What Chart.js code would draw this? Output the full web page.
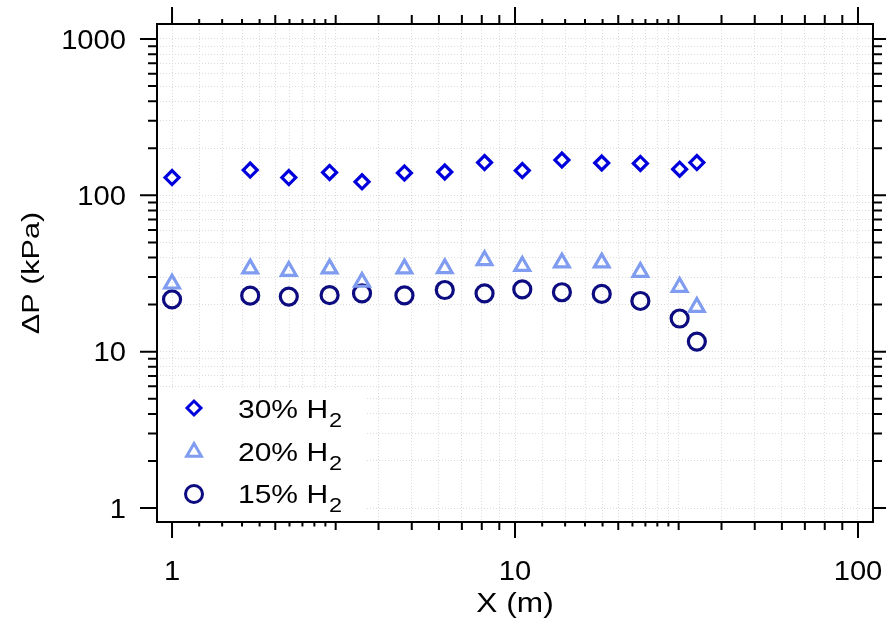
<!DOCTYPE html>
<html>
<head>
<meta charset="utf-8">
<script src="https://cdn.jsdelivr.net/npm/chart.js@4/dist/chart.umd.min.js"></script>
<style>
html,body{margin:0;padding:0;background:#fff;}
#wrap{width:886px;height:621px;}
</style>
</head>
<body>
<div id="wrap"><canvas id="c" width="886" height="621"></canvas></div>
<script>
// ---- data ----
const xPositions = [1.0, 1.69, 2.19, 2.88, 3.58, 4.76, 6.24, 8.15, 10.5, 13.7, 17.9, 23.2, 30.2, 33.9];
const dp30 = [130, 145, 130, 140, 122, 139, 141, 162, 144, 168, 161, 160, 147, 162];
const dp20 = [27.2, 34.0, 32.8, 34.0, 27.9, 34.0, 34.1, 38.4, 35.3, 37.1, 37.1, 32.3, 25.9, 19.3];
const dp15 = [21.6, 22.8, 22.5, 23.0, 23.6, 22.9, 24.8, 23.6, 25.0, 24.0, 23.4, 21.1, 16.3, 11.6];
const seriesNames = ['30% H', '20% H', '15% H'];
const seriesSub = ['2', '2', '2'];

// tick values
const xMajorTicks = [1, 10, 100];
const xMediumTicks = [2, 3, 4, 5, 6, 7, 8, 9, 20, 30, 40, 50, 60, 70, 80, 90];
const xMinorTicks = [1.2, 1.4, 1.6, 1.8, 2.2, 2.4, 2.6, 2.8, 12, 14, 16, 18, 22, 24, 26, 28];
const yMajorTicks = [1, 10, 100, 1000];
const yMinorTicks = [2, 3, 4, 5, 6, 7, 8, 9, 20, 30, 40, 50, 60, 70, 80, 90, 200, 300, 400, 500, 600, 700, 800, 900];
const xTickLabels = ['1', '10', '100'];
const yTickLabels = ['1', '10', '100', '1000'];
const xTitle = 'X (m)';
const yTitle = '\u0394P (kPa)';

const colors = ['#0000dc', '#7f9cf0', '#0c0c80'];
const FONT = '"Liberation Sans", Arial, sans-serif';

function pts(ys) { return xPositions.map((x, i) => ({x: x, y: ys[i]})); }

function sText(ctx, str, x, y, size, stretch, align) {
  ctx.save();
  ctx.translate(x, y);
  ctx.scale(stretch, 1);
  ctx.font = size + 'px ' + FONT;
  ctx.textAlign = align;
  ctx.textBaseline = 'alphabetic';
  ctx.fillStyle = '#000';
  ctx.fillText(str, 0, 0);
  ctx.restore();
}

function marker(ctx, style, x, y, r, color) {
  ctx.save();
  ctx.strokeStyle = color;
  ctx.lineWidth = 3;
  ctx.beginPath();
  if (style === 'rectRot') {
    ctx.moveTo(x - r, y); ctx.lineTo(x, y - r); ctx.lineTo(x + r, y); ctx.lineTo(x, y + r); ctx.closePath();
  } else if (style === 'triangle') {
    let a = 0;
    ctx.moveTo(x + Math.sin(a) * r, y - Math.cos(a) * r);
    a += 2 * Math.PI / 3; ctx.lineTo(x + Math.sin(a) * r, y - Math.cos(a) * r);
    a += 2 * Math.PI / 3; ctx.lineTo(x + Math.sin(a) * r, y - Math.cos(a) * r);
    ctx.closePath();
  } else {
    ctx.arc(x, y, r, 0, Math.PI * 2);
  }
  ctx.stroke();
  ctx.restore();
}

const overlay = {
  id: 'overlay',
  afterDraw(chart) {
    const ctx = chart.ctx;
    const a = chart.chartArea;
    const xs = chart.scales.x, ys = chart.scales.y;
    ctx.save();
    // legend box (covers grid)
    ctx.fillStyle = '#fff';
    ctx.fillRect(a.left, 388, 367 - a.left, a.bottom - 388);
    // frame
    ctx.strokeStyle = '#000';
    ctx.lineWidth = 2;
    ctx.strokeRect(a.left, a.top, a.right - a.left, a.bottom - a.top);
    // x ticks (bottom & top)
    const xt = (vals, lb, lt) => vals.forEach(v => {
      const p = xs.getPixelForValue(v);
      ctx.beginPath();
      ctx.moveTo(p, a.bottom); ctx.lineTo(p, a.bottom + lb);
      ctx.moveTo(p, a.top); ctx.lineTo(p, a.top - lt);
      ctx.stroke();
    });
    xt(xMajorTicks, 16, 17);
    xt(xMediumTicks, 8, 9);
    xt(xMinorTicks, 4.5, 5);
    // y ticks (left & right)
    const yt = (vals, len) => vals.forEach(v => {
      const p = ys.getPixelForValue(v);
      ctx.beginPath();
      ctx.moveTo(a.left, p); ctx.lineTo(a.left - len, p);
      ctx.moveTo(a.right, p); ctx.lineTo(a.right + len, p);
      ctx.stroke();
    });
    yt(yMajorTicks, 17);
    yt(yMinorTicks, 9);
    // tick labels
    xMajorTicks.forEach((v, i) => sText(ctx, xTickLabels[i], xs.getPixelForValue(v), 580, 27, 1.08, 'center'));
    yMajorTicks.forEach((v, i) => sText(ctx, yTickLabels[i], 126, ys.getPixelForValue(v) + 9.7, 27, 1.08, 'right'));
    // axis titles
    sText(ctx, xTitle, (a.left + a.right) / 2, 612, 28, 1.13, 'center');
    ctx.save();
    ctx.translate(39, (a.top + a.bottom) / 2);
    ctx.rotate(-Math.PI / 2);
    sText(ctx, yTitle, 0, 0, 23, 1.33, 'center');
    ctx.restore();
    // legend
    const styles = ['rectRot', 'triangle', 'circle'];
    const radii = [7, 8.5, 8.5];
    const mY = [408, 452, 494];
    const bY = [418, 461, 503];
    for (let i = 0; i < 3; i++) {
      marker(ctx, styles[i], 194, mY[i], radii[i], colors[i]);
      const size = 25, st = 1.2;
      ctx.font = size + 'px ' + FONT;
      const w = ctx.measureText(seriesNames[i]).width * st;
      sText(ctx, seriesNames[i], 238, bY[i], size, st, 'left');
      sText(ctx, seriesSub[i], 238 + w + 1, bY[i] + 8.5, 21, 1.12, 'left');
    }
    ctx.restore();
  }
};

const gridOpts = { drawTicks: false, color: '#dcdcdc', lineWidth: 1 };
const borderOpts = { display: false, dash: [1, 2] };

new Chart(document.getElementById('c'), {
  type: 'scatter',
  data: {
    datasets: [
      { label: '30% H2', data: pts(dp30), pointStyle: 'rectRot', pointRadius: 7, borderColor: colors[0], backgroundColor: 'rgba(0,0,0,0)', pointBorderWidth: 3.2, borderWidth: 3.2 },
      { label: '20% H2', data: pts(dp20), pointStyle: 'triangle', pointRadius: 8.5, borderColor: colors[1], backgroundColor: 'rgba(0,0,0,0)', pointBorderWidth: 3.2, borderWidth: 3.2 },
      { label: '15% H2', data: pts(dp15), pointStyle: 'circle', pointRadius: 8.5, borderColor: colors[2], backgroundColor: 'rgba(0,0,0,0)', pointBorderWidth: 3.2, borderWidth: 3.2 }
    ]
  },
  options: {
    responsive: false,
    animation: false,
    devicePixelRatio: 1,
    events: [],
    layout: { padding: { top: 24, right: 13, left: 0, bottom: 0 } },
    plugins: { legend: { display: false }, tooltip: { enabled: false } },
    scales: {
      x: {
        type: 'logarithmic', min: 0.904, max: 110.6,
        ticks: { display: false },
        grid: gridOpts, border: borderOpts,
        afterBuildTicks: s => { s.ticks = [...xMajorTicks, ...xMediumTicks, ...xMinorTicks].sort((p, q) => p - q).map(v => ({value: v})); },
        afterFit: s => { s.height = 99; }
      },
      y: {
        type: 'logarithmic', min: 0.814, max: 1247,
        ticks: { display: false },
        grid: gridOpts, border: borderOpts,
        afterBuildTicks: s => { s.ticks = [...yMajorTicks, ...yMinorTicks].sort((p, q) => p - q).map(v => ({value: v})); },
        afterFit: s => { s.width = 157; }
      }
    }
  },
  plugins: [overlay]
});
</script>
</body>
</html>
